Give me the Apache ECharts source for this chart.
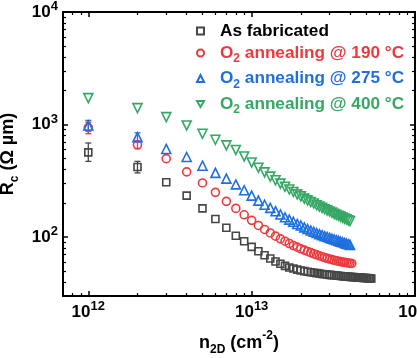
<!DOCTYPE html>
<html>
<head>
<meta charset="utf-8">
<script src="https://cdn.jsdelivr.net/npm/echarts@6/dist/echarts.min.js"></script>
<style>
  html, body { margin: 0; padding: 0; background: #fff; }
  #chart { width: 417px; height: 358px; }
</style>
</head>
<body>
<div id="chart"></div>
<script>
// Sheet carrier density n2D, in units of 1e12 cm^-2
const density = [1, 2, 3, 4, 5, 6, 7, 8, 9, 10, 11, 12, 13, 14, 15, 16, 17, 18, 19, 20,
  21, 22, 23, 24, 25, 26, 27, 28, 29, 30, 31, 32, 33, 34, 35, 36, 37, 38, 39, 40,
  41, 42, 43, 44, 45, 46, 47, 48, 49, 50, 51, 52, 53, 54];

// Contact resistance Rc (Ohm um) for each treatment
const rcAsFab = [566, 420, 307, 234, 180, 145, 121, 103, 92, 82,
  75, 69, 64.6, 60.8, 58, 55.5, 53.8, 52.6, 51.5, 50.6,
  49.9, 49.3, 48.8, 48.3, 47.9, 47.5, 47.1, 46.8, 46.5, 46.2,
  46.0, 45.8, 45.6, 45.4, 45.2, 45.0, 44.8, 44.7, 44.5, 44.4,
  44.3, 44.1, 44.0, 43.9, 43.8, 43.7, 43.6, 43.5, 43.4, 43.3,
  43.2, 43.1, 43.0, 42.9];
const rc190 = [940, 662, 498, 380, 303, 250, 208, 180, 158, 141,
  127, 117, 109, 102, 96.6, 92, 87.8, 84.3, 81.5, 78.8,
  76.6, 74.6, 72.8, 71.2, 69.7, 68.3, 67, 65.8, 64.8, 63.9,
  63.1, 62.4, 61.7, 61.1, 60.6, 60.1, 59.7, 59.3, 59.0, 58.7,
  58.4];
const rc275 = [980, 774, 607, 515, 431, 372, 331, 294, 261, 234,
  211, 194, 182, 170, 159, 150, 143, 137, 131, 127,
  122, 118, 114.5, 111.5, 108.7, 106.2, 104, 102, 100.2, 98.5,
  96.9, 95.4, 94, 92.6, 91.3, 90, 88.8, 87.6, 86.5, 85.4];
const rc400 = [1718, 1400, 1165, 982, 828, 733, 653, 595, 521, 461,
  414, 376, 345, 320, 299, 280, 265, 252, 240, 230,
  220, 212, 205, 199, 192, 187, 182, 177, 173, 169,
  165, 161, 158, 155, 152, 149, 146, 144, 141, 139];

// Error bars at the lowest densities: [density (1e12 cm^-2), low, high]
const errAsFab = [[1, 471, 686], [2, 372, 471]];
const err190 = [[1, 830, 1050], [2, 610, 720]];
const err275 = [[1, 880, 1090], [2, 700, 845]];

// Legend entries
const seriesNames = ['As fabricated', 'O2 annealing @ 190 °C', 'O2 annealing @ 275 °C', 'O2 annealing @ 400 °C'];
const legendTemps = ['', '190 °C', '275 °C', '400 °C'];

// Axis ticks
const xMajor = [1e12, 1e13, 1e14];
const xMinor = [8e11, 9e11, 2e12, 3e12, 4e12, 5e12, 6e12, 7e12, 8e12, 9e12,
  2e13, 3e13, 4e13, 5e13, 6e13, 7e13, 8e13, 9e13];
const yMajor = [1e2, 1e3, 1e4];
const yMinor = [40, 50, 60, 70, 80, 90, 200, 300, 400, 500, 600, 700, 800, 900,
  2000, 3000, 4000, 5000, 6000, 7000, 8000, 9000];

const X_MIN = 7e11, X_MAX = 1e14, Y_MIN = 30, Y_MAX = 1e4;

const FONT = '"Liberation Sans", Arial, sans-serif';
const colors = ['#464646', '#ee3a3e', '#1f6fde', '#36a865'];
const textColors = ['#000000', '#ee3a3e', '#1f6fde', '#36a865'];

const pts = (vals) => vals.map((v, i) => [density[i] * 1e12, v]);
const errs = (rows) => rows.map(r => [r[0] * 1e12, r[1], r[2]]);

const supRich = {
  b: { fontFamily: FONT, fontSize: 17, fontWeight: 'bold', color: '#000', lineHeight: 24 },
  s: { fontFamily: FONT, fontSize: 13, fontWeight: 'bold', color: '#000', lineHeight: 13, verticalAlign: 'top' }
};
const powerLabel = (v) => '{b|10}{s|' + Math.round(Math.log10(v)) + '}';

function axisPair(kind, position, majors, minors, withLabels, min, max) {
  const base = {
    type: 'log', logBase: 10, min: min, max: max, position: position,
    splitLine: { show: false }, minorTick: { show: false }, minorSplitLine: { show: false }
  };
  const major = Object.assign({}, base, {
    axisLine: { show: true, onZero: false, lineStyle: { color: '#000', width: 2 } },
    axisTick: { show: true, inside: true, length: 5, customValues: majors, lineStyle: { color: '#000', width: 1.5 } },
    axisLabel: withLabels ? {
      show: true, customValues: majors, margin: kind === 'x' ? 4 : 5,
      formatter: powerLabel, rich: supRich
    } : { show: false }
  });
  const minor = Object.assign({}, base, {
    axisLine: { show: false, onZero: false },
    axisTick: { show: true, inside: true, length: 3, customValues: minors, lineStyle: { color: '#000', width: 1.2 } },
    axisLabel: { show: false }
  });
  return [major, minor];
}

const xAxes = axisPair('x', 'bottom', xMajor, xMinor, true, X_MIN, X_MAX)
  .concat(axisPair('x', 'top', xMajor, xMinor, false, X_MIN, X_MAX));
const yAxes = axisPair('y', 'left', yMajor, yMinor, true, Y_MIN, Y_MAX)
  .concat(axisPair('y', 'right', yMajor, yMinor, false, Y_MIN, Y_MAX));

const titleRich = {
  b: { fontFamily: FONT, fontSize: 18, fontWeight: 'bold', color: '#000', lineHeight: 26 },
  s: { fontFamily: FONT, fontSize: 12, fontWeight: 'bold', color: '#000', lineHeight: 15, verticalAlign: 'bottom' },
  p: { fontFamily: FONT, fontSize: 12, fontWeight: 'bold', color: '#000', lineHeight: 13, verticalAlign: 'top' }
};

xAxes[0].name = '{b|n}{s|2D}{b| (cm}{p|-2}{b|)}';
xAxes[0].nameLocation = 'middle';
xAxes[0].nameGap = 34;
xAxes[0].nameTextStyle = { rich: titleRich };

yAxes[0].name = '{b|R}{s|c}{b| (Ω µm)}';
yAxes[0].nameLocation = 'middle';
yAxes[0].nameGap = 31;
yAxes[0].nameTextStyle = { rich: titleRich };

const symbols = ['rect', 'circle', 'triangle', 'triangle'];
const symbolSizes = [7, 8, 9, 9];
const symbolRotates = [0, 0, 0, 180];
const legendIcons = ['rect', 'circle', 'triangle', 'path://M0,0L10,0L5,8.66Z'];
const dataSets = [rcAsFab, rc190, rc275, rc400];

const series = dataSets.map((vals, i) => ({
  name: seriesNames[i],
  type: 'scatter',
  xAxisIndex: 0, yAxisIndex: 0,
  symbol: symbols[i],
  symbolSize: symbolSizes[i],
  symbolRotate: symbolRotates[i],
  itemStyle: { color: 'rgba(255,255,255,0)', borderColor: colors[i], borderWidth: 1.6, opacity: 1 },
  emphasis: { disabled: true },
  data: pts(vals),
  z: 3
}));

function errorSeries(rows, color) {
  return {
    type: 'custom',
    name: 'err',
    xAxisIndex: 0, yAxisIndex: 0,
    data: errs(rows),
    z: 2,
    renderItem: function (params, api) {
      const lo = api.coord([api.value(0), api.value(1)]);
      const hi = api.coord([api.value(0), api.value(2)]);
      const cap = 3;
      const style = { stroke: color, lineWidth: 1.3, fill: null };
      return {
        type: 'group',
        children: [
          { type: 'line', shape: { x1: lo[0], y1: lo[1], x2: hi[0], y2: hi[1] }, style: style },
          { type: 'line', shape: { x1: lo[0] - cap, y1: lo[1], x2: lo[0] + cap, y2: lo[1] }, style: style },
          { type: 'line', shape: { x1: hi[0] - cap, y1: hi[1], x2: hi[0] + cap, y2: hi[1] }, style: style }
        ]
      };
    }
  };
}
series.push(errorSeries(errAsFab, colors[0]));
series.push(errorSeries(err190, colors[1]));
series.push(errorSeries(err275, colors[2]));

// Rich-text legend labels with subscripted O2
const legendRich = {};
textColors.forEach((c, i) => {
  legendRich['t' + i] = { fontFamily: FONT, fontSize: 17.2, fontWeight: 'bold', color: c, lineHeight: 24 };
  legendRich['f' + i] = { fontFamily: FONT, fontSize: 17.2, fontWeight: 'bold', color: c, lineHeight: 24, padding: [0, 0, 0, 11] };
  legendRich['u' + i] = { fontFamily: FONT, fontSize: 12, fontWeight: 'bold', color: c, lineHeight: 12, verticalAlign: 'bottom' };
});

const chart = echarts.init(document.getElementById('chart'), null, { renderer: 'canvas' });
chart.setOption({
  animation: false,
  backgroundColor: '#fff',
  grid: { left: 63, right: 2, top: 12, bottom: 62, containLabel: false, outerBoundsMode: 'none' },
  xAxis: xAxes,
  yAxis: yAxes,
  legend: {
    orient: 'vertical',
    left: 191, top: 17.5,
    itemWidth: 7, itemHeight: 7,
    itemGap: 5,
    selectedMode: false,
    data: seriesNames.map((n, i) => ({ name: n, icon: legendIcons[i] })),
    formatter: function (name) {
      const i = seriesNames.indexOf(name);
      if (i === 0) return '{f0|' + name + '}';
      return '{f' + i + '|O}{u' + i + '|2}{t' + i + '| annealing @ ' + legendTemps[i] + '}';
    },
    textStyle: { rich: legendRich }
  },
  series: series
});
</script>
</body>
</html>
